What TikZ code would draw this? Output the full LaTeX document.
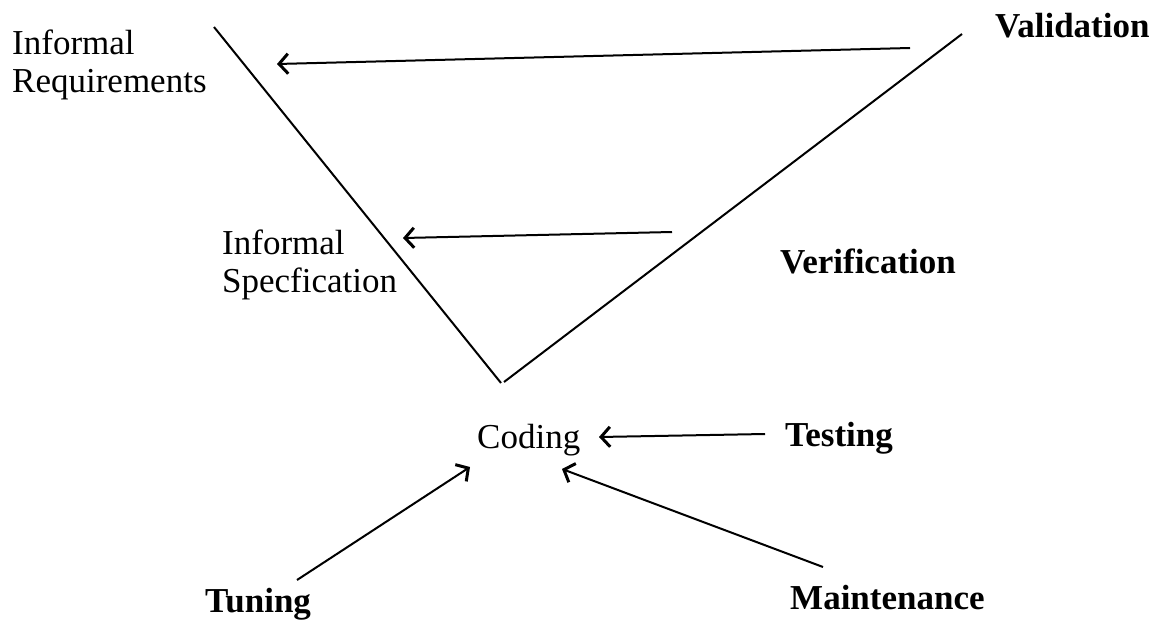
\documentclass[tikz,border=0pt]{standalone}
\usepackage{fontspec}
\setmainfont{Liberation Serif}
\usetikzlibrary{arrows.meta}
\begin{document}
\begin{tikzpicture}[x=1pt,y=-1pt,
  label/.style={font=\fontsize{35}{38}\selectfont, inner sep=0pt, anchor=base west, align=left},
  boldlabel/.style={label, font=\fontsize{35}{38}\selectfont\bfseries},
  vline/.style={line width=2pt},
  feedback/.style={line width=2pt, -{Straight Barb[length=9pt,width=20pt,line width=3pt]}}]
\useasboundingbox (0,0) rectangle (1161,623);

% labels (base anchor sits on the last line of a two-line label)
\node[label] (req) at (12,93) {Informal\\Requirements};
\node[boldlabel] (val) at (995,38) {Validation};
\node[label] (spec) at (222,292) {Informal\\Specfication};
\node[boldlabel] (ver) at (780,273) {Verification};
\node[label] (cod) at (477,448) {Coding};
\node[boldlabel] (tst) at (785,446) {Testing};
\node[boldlabel] (tun) at (205,612) {Tuning};
\node[boldlabel] (mnt) at (790,609) {Maintenance};

% the V
\coordinate (vtl) at (214,27);
\coordinate (vbl) at (501,383);
\coordinate (vbr) at (504,382);
\coordinate (vtr) at (962,34);
\draw[vline] (vtl) -- (vbl);
\draw[vline] (vbr) -- (vtr);

% arrow end points
\coordinate (a1s) at (910,48);
\coordinate (a1e) at (277,64);
\coordinate (a2s) at (672,232);
\coordinate (a2e) at (403,238);
\coordinate (a3s) at (765,434);
\coordinate (a3e) at (599,437);
\coordinate (a4s) at (297,580);
\coordinate (a4e) at (470,467);
\coordinate (a5s) at (823,567);
\coordinate (a5e) at (562,469);

\draw[feedback] (a1s) -- (a1e);
\draw[feedback] (a2s) -- (a2e);
\draw[feedback] (a3s) -- (a3e);
\draw[feedback] (a4s) -- (a4e);
\draw[feedback] (a5s) -- (a5e);
\end{tikzpicture}
\end{document}
